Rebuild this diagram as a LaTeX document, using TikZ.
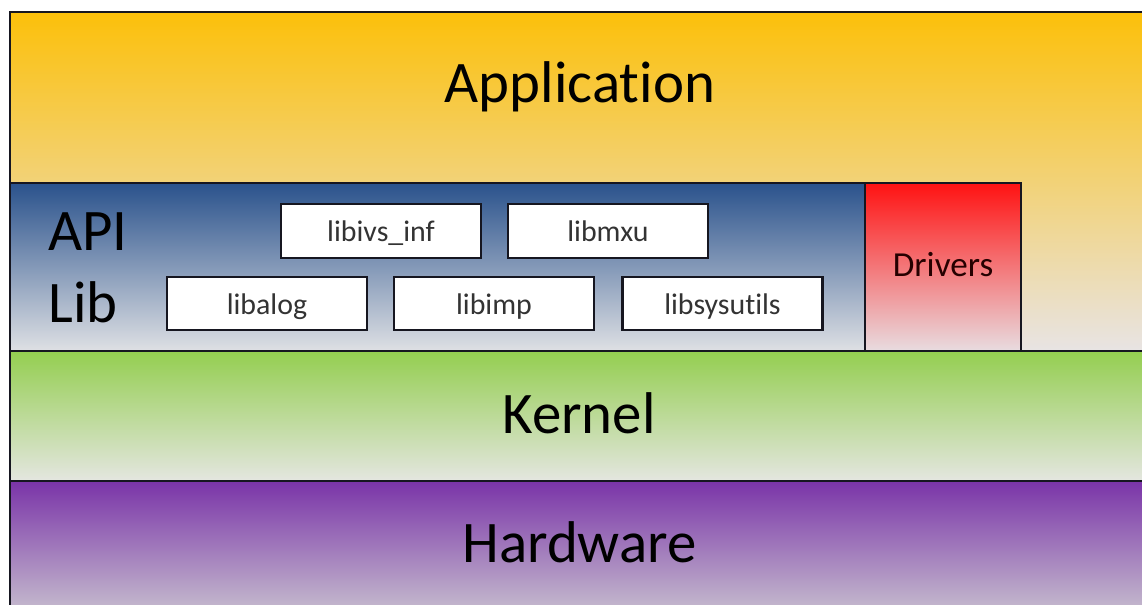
\documentclass[tikz,border=0pt]{standalone}
\usepackage{fontspec}
\setmainfont{Carlito}[Ligatures=NoCommon]

\definecolor{edge}{RGB}{22,22,32}
\definecolor{appTop}{RGB}{252,192,10}
\definecolor{appBot}{RGB}{232,228,228}
\definecolor{apiTop}{RGB}{42,82,140}
\definecolor{apiBot}{RGB}{222,224,228}
\definecolor{drvTop}{RGB}{255,18,18}
\definecolor{drvBot}{RGB}{232,220,224}
\definecolor{kerTop}{RGB}{148,206,80}
\definecolor{kerBot}{RGB}{228,230,224}
\definecolor{hwTop}{RGB}{122,52,168}
\definecolor{hwBot}{RGB}{202,196,208}

\begin{document}
\begin{tikzpicture}[
  layer/.style={draw=edge,line width=1.3pt},
  libbox/.style={shape=rectangle,draw=edge,fill=white,line width=1.4pt,
    minimum width=4cm,minimum height=1.07cm,text height=14pt,text depth=2pt,
    text=black!80,font=\fontsize{17}{20}\selectfont},
  big/.style={inner sep=0pt,font=\fontsize{33.5}{40}\selectfont}]
\useasboundingbox (0,0) rectangle (22.84,12.1);
\clip (0,0) rectangle (22.84,12.1);

% layers, bottom edges and right edges run past the clip
\path[layer,top color=appTop,bottom color=appBot] (0.2,5.08) rectangle (23.2,11.86);
\path[layer,top color=apiTop,bottom color=apiBot] (0.2,5.08) rectangle (17.3,8.44);
\path[layer,top color=drvTop,bottom color=drvBot] (17.3,5.08) rectangle (20.42,8.44);
\path[layer,top color=kerTop,bottom color=kerBot] (0.2,2.48) rectangle (23.2,5.08);
\path[layer,top color=hwTop,bottom color=hwBot] (0.2,-0.3) rectangle (23.2,2.48);

\node[big,anchor=base] (app) at (11.6,10.04) {Application};
\node[big,anchor=base west] (api) at (0.96,7.08) {API};
\node[big,anchor=base west] (lib) at (0.96,5.64) {Lib};
\node[big,anchor=base] (kernel) at (11.58,3.42) {Kernel};
\node[big,anchor=base] (hw) at (11.59,0.84) {Hardware};
\node[inner sep=0pt,anchor=base,text=black!85!red,font=\fontsize{20}{24}\selectfont] (drv) at (18.86,6.56) {Drivers};

% libraries inside the API layer
\node[libbox] (ivs) at (7.62,7.48) {libivs\_inf};
\node[libbox] (mxu) at (12.16,7.48) {libmxu};
\node[libbox] (alog) at (5.34,6.03) {libalog};
\node[libbox] (imp) at (9.88,6.03) {libimp};
\node[libbox] (sysutils) at (14.45,6.03) {libsysutils};
\end{tikzpicture}
\end{document}
